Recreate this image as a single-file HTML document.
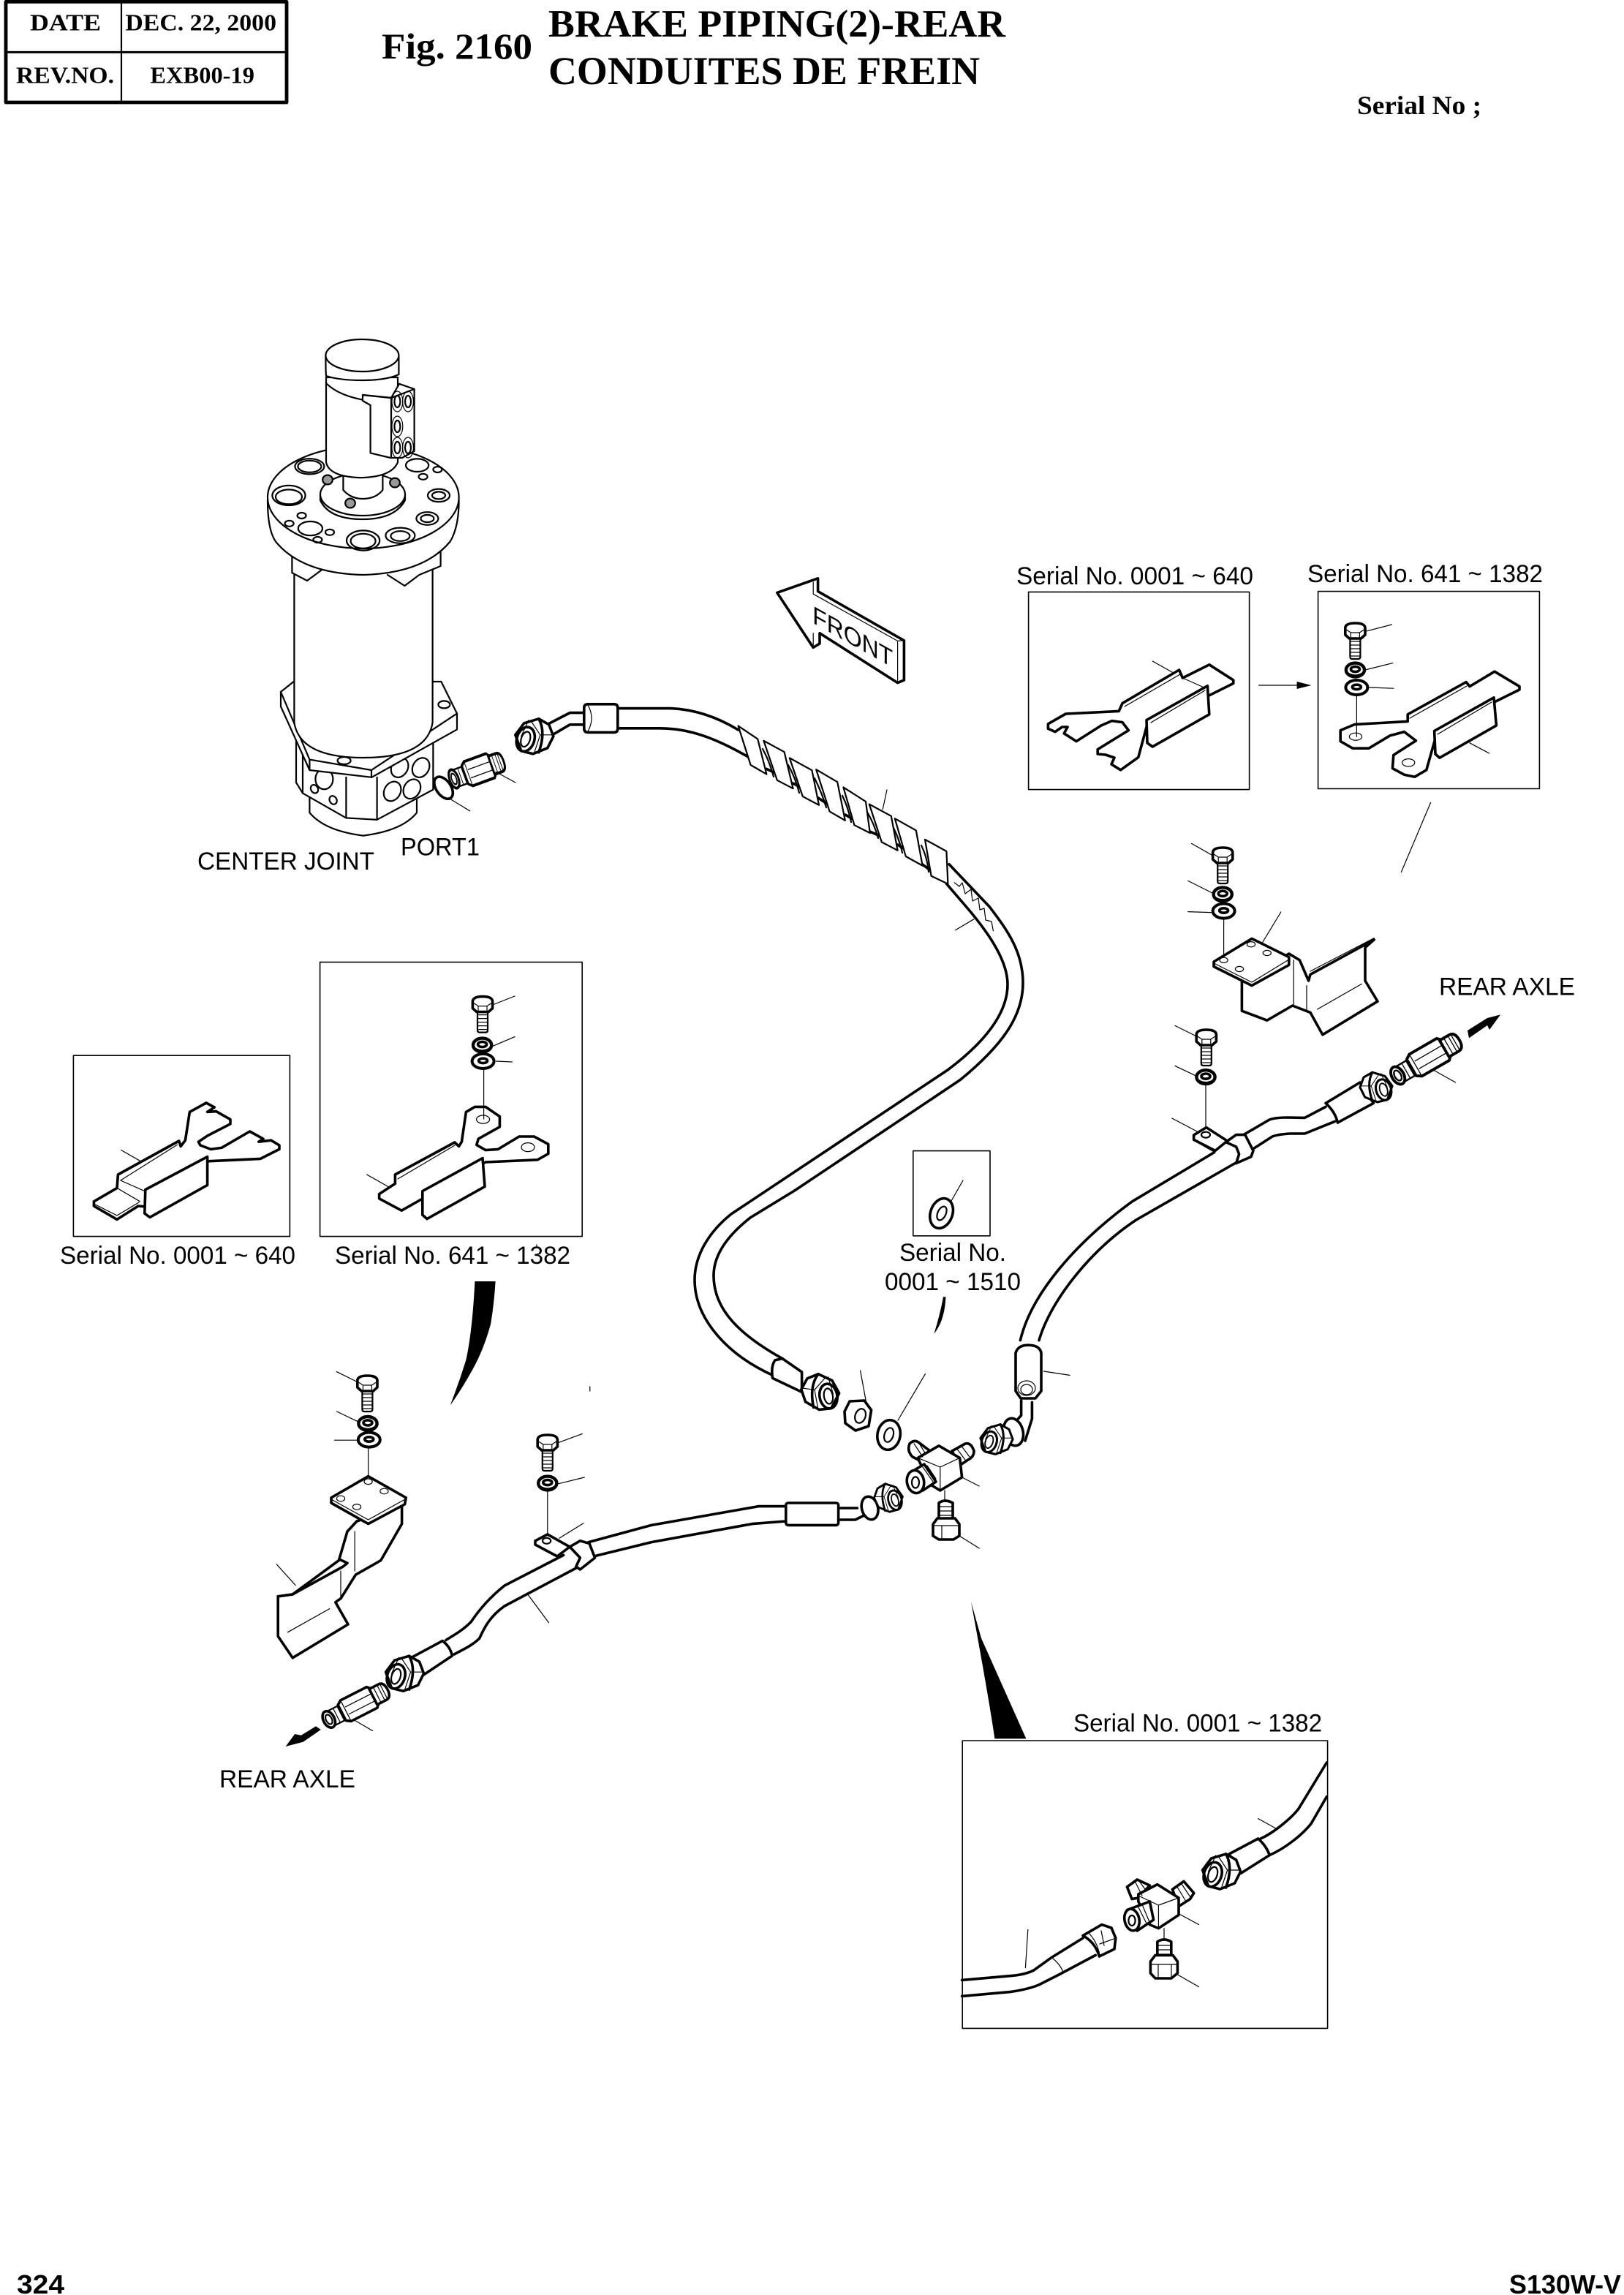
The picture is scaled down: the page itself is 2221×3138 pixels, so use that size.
<!DOCTYPE html>
<html><head><meta charset="utf-8"><title>Fig. 2160 Brake Piping</title>
<style>
html,body{margin:0;padding:0;background:#fff}
svg{display:block}
.t{stroke-width:1.8}.m{stroke-width:1.1}.n{stroke-width:.6}
text{fill:#000;stroke:none}
.s{font-family:"Liberation Sans",sans-serif;font-size:17px}
.b{font-family:"Liberation Serif",serif;font-weight:bold}
.h{font-family:"Liberation Sans",sans-serif;font-weight:bold;font-size:18px}
</style></head><body>
<svg xmlns="http://www.w3.org/2000/svg" width="2221" height="3138" viewBox="0 0 1110.5 1569" fill="none" stroke="#000" stroke-linejoin="round" stroke-linecap="round">
<defs>
<g id="bolt"><path class="m" fill="#fff" d="M-3.5 9h7v13.5q0 1.5-1.5 1.5h-4q-1.5 0-1.5-1.5z"/>
<path class="n" d="M-3.5 12h7M-3.5 14.5h7M-3.5 17h7M-3.5 19.5h7M-3.5 22h7"/>
<path class="t" fill="#fff" d="M-6.8 3q0-3.5 6.8-3.5t6.8 3.5v4.5l-2.8 2.500h-8l-2.800-2.500z"/>
<path class="n" d="M-6.8 3.500l3.800 2.500h6l3.800-2.500M-3 6v4M3 6v4"/></g>
<g id="lock"><ellipse stroke-width="2.200" fill="#fff" rx="6.300" ry="4.700"/><ellipse class="t" cy="-.5" rx="3" ry="1.800"/><path class="n" d="M-6.300 1q6.300 5 12.600 0"/></g>
<g id="wash"><ellipse stroke-width="2" fill="#fff" rx="7.500" ry="5"/><ellipse class="t" cy="-.3" rx="3" ry="1.600"/><path class="n" d="M-7 2q7 5 14 0"/></g>
<g id="nut"><path class="t" fill="#fff" d="M-13-1L-7-9L3-12L10-8L13 0L9 8L-1 12L-9 10Z"/>
<ellipse class="t" cx="-6" cy="2" rx="6" ry="8.500" transform="rotate(18 -6 2)"/><ellipse class="m" cx="-6" cy="2" rx="3" ry="5.300" transform="rotate(18 -6 2)"/>
<path class="n" d="M-2-10L4-1L0 11M4-1L13-1M-4-11L-9 0"/><path class="t" d="M3-12Q8-3 3 11"/></g>
<g id="adapt"><path class="m" fill="#fff" d="M-22-5.500H-10V5.500H-22z"/><path class="n" d="M-19-5.500V5.500M-16-5.500V5.500M-13-5.500V5.500"/>
<path class="t" fill="#fff" d="M-12-6L-9-8H11L13-6V6L11 8H-9L-12 6z"/><path class="n" d="M-8-2.500H11M-8 3H11M-9-8V8"/>
<path class="t" fill="#fff" d="M12-6H19Q23-6 23 0T19 6H12z"/><path class="n" d="M15-6V6M18-6V6M20-6V6"/>
<ellipse class="t" fill="#fff" cx="-22" rx="3.800" ry="6"/><ellipse class="m" cx="-22" rx="2" ry="3.500"/></g>
</defs>
<!-- title block -->
<rect x="4" y="1.200" width="192" height="68.800" stroke-width="2.400"/>
<path stroke-width="1.500" d="M4 35.700H196"/><path class="m" d="M83 2V69"/>
<g class="b">
<text x="20.500" y="20.800" font-size="16" textLength="48.500" lengthAdjust="spacingAndGlyphs">DATE</text>
<text x="85.700" y="20.800" font-size="16" textLength="103.300" lengthAdjust="spacingAndGlyphs">DEC. 22, 2000</text>
<text x="11" y="56.700" font-size="16" textLength="67" lengthAdjust="spacingAndGlyphs">REV.NO.</text>
<text x="102.700" y="56.700" font-size="16" textLength="71.300" lengthAdjust="spacingAndGlyphs">EXB00-19</text>
<text x="261" y="40" font-size="25" textLength="103" lengthAdjust="spacingAndGlyphs">Fig. 2160</text>
<text x="375" y="25" font-size="26.500" textLength="312.500" lengthAdjust="spacingAndGlyphs">BRAKE PIPING(2)-REAR</text>
<text x="375" y="57.500" font-size="27" textLength="295" lengthAdjust="spacingAndGlyphs">CONDUITES DE FREIN</text>
<text x="928" y="78" font-size="18" textLength="85" lengthAdjust="spacingAndGlyphs">Serial No ;</text>
</g>
<text class="h" x="11.500" y="1568" textLength="32.500" lengthAdjust="spacingAndGlyphs">324</text>
<text class="h" x="1032" y="1568" textLength="76.500" lengthAdjust="spacingAndGlyphs">S130W-V</text>
<!-- labels -->
<g class="s">
<text x="135" y="594.400" textLength="121" lengthAdjust="spacingAndGlyphs">CENTER JOINT</text>
<text x="274" y="584.700" textLength="54" lengthAdjust="spacingAndGlyphs">PORT1</text>
<text x="695" y="399.500" textLength="162" lengthAdjust="spacingAndGlyphs">Serial No. 0001 ~ 640</text>
<text x="894" y="398" textLength="161" lengthAdjust="spacingAndGlyphs">Serial No. 641 ~ 1382</text>
<text x="984" y="680.300" textLength="93" lengthAdjust="spacingAndGlyphs">REAR AXLE</text>
<text x="41" y="863.900" textLength="161" lengthAdjust="spacingAndGlyphs">Serial No. 0001 ~ 640</text>
<text x="229" y="863.900" textLength="161" lengthAdjust="spacingAndGlyphs">Serial No. 641 ~ 1382</text>
<text x="615" y="862" textLength="73" lengthAdjust="spacingAndGlyphs">Serial No.</text>
<text x="605" y="882" textLength="93" lengthAdjust="spacingAndGlyphs">0001 ~ 1510</text>
<text x="150" y="1222" textLength="93" lengthAdjust="spacingAndGlyphs">REAR AXLE</text>
<text x="734" y="1183.700" textLength="170" lengthAdjust="spacingAndGlyphs">Serial No. 0001 ~ 1382</text>
</g>
<!-- CENTER JOINT -->
<g class="m">
<path d="M211.700 544.700V555.600Q222 568 248.300 571.300Q275 568 285 555.600V546"/>
<path fill="#fff" d="M202.500 506V535L207 542.300L236.700 559.200L257.800 560.400L296.200 539.800V508.300Z"/>
<path d="M207 510V542.300M236.700 531.400V559.200M257.800 531.400V560.400"/>
<ellipse cx="221.700" cy="532.600" rx="6" ry="7"/><ellipse cx="215" cy="539.400" rx="2.400" ry="3" transform="rotate(-30 215 539.400)"/><ellipse cx="227.800" cy="547" rx="2.400" ry="3" transform="rotate(-30 227.800 547)"/>
<ellipse cx="273.300" cy="524.800" rx="5.500" ry="7" transform="rotate(30 273.300 524.800)"/><ellipse cx="287.800" cy="524.800" rx="5.500" ry="7" transform="rotate(30 287.800 524.800)"/><ellipse cx="268.300" cy="541" rx="5.500" ry="7" transform="rotate(30 268.300 541)"/><ellipse cx="281.700" cy="539.400" rx="5.500" ry="7" transform="rotate(30 281.700 539.400)"/>
<path fill="#fff" d="M192 473L200.800 466H295.800H301.700L312.500 487.800V498.700L254.200 531.400L211.700 526.500L192 483Z"/>
<path d="M192 473L211.700 519.300L254 526.500L312.500 487.800M211.700 519.300V526.500M254 526.500V531.400"/>
<ellipse cx="303.700" cy="481.700" rx="4" ry="2.500"/><ellipse cx="235.300" cy="520" rx="4.500" ry="2.500"/>
<path fill="#fff" d="M201.200 388V494Q205 518 248.500 518Q292 518 295.800 494V388Z"/>
<path d="M199.700 378V391.600L210 397L220 389.600M301.300 377.500V387L286.700 393L276.700 400.500L265 393" fill="#fff"/>
<path fill="#fff" d="M183 342Q183 365 190 372Q208 392 248 393Q290 392 308 370Q313.800 360 313.800 342Z"/>
<ellipse fill="#fff" cx="248.400" cy="340" rx="65.400" ry="35"/>
<ellipse cx="211.700" cy="318.900" rx="10" ry="5.300"/><ellipse cx="211.700" cy="318.900" rx="8" ry="4"/>
<ellipse cx="197.500" cy="338.700" rx="11.300" ry="6.800"/><ellipse cx="197.500" cy="339.700" rx="9" ry="5"/>
<ellipse cx="285.300" cy="318.100" rx="7.800" ry="4.400"/><ellipse cx="299.200" cy="321" rx="3" ry="2"/><ellipse cx="289.300" cy="325.900" rx="3" ry="2"/>
<ellipse cx="300" cy="338.700" rx="7.500" ry="4.400"/><ellipse cx="300" cy="338.700" rx="4.500" ry="2.500"/>
<ellipse cx="292.200" cy="354.500" rx="7.500" ry="4.400"/><ellipse cx="292.200" cy="354.500" rx="4.500" ry="2.500"/>
<ellipse cx="212.200" cy="361.300" rx="8.300" ry="4.800"/><ellipse cx="206.300" cy="352.500" rx="3" ry="2"/><ellipse cx="197.800" cy="357.900" rx="3" ry="2"/><ellipse cx="225.500" cy="363.900" rx="3" ry="2"/><ellipse cx="217.200" cy="369" rx="3" ry="2"/>
<ellipse cx="248.300" cy="369.500" rx="11.300" ry="6.800"/><ellipse cx="248.300" cy="369.900" rx="8.500" ry="5"/>
<ellipse cx="273.700" cy="366.100" rx="10" ry="5.300"/><ellipse cx="273.700" cy="366.500" rx="6.500" ry="3.400"/>
<path fill="#fff" d="M219 338V342Q225 355 248 355Q270 355 277 342V338Z"/>
<ellipse fill="#fff" cx="248" cy="338" rx="29" ry="14.500"/>
<path fill="#fff" d="M234.700 322V335Q240 341 248 341Q257 341 261.700 335V322Z"/>
<ellipse cx="224" cy="328" rx="3.400" ry="3.200" fill="#999"/><ellipse cx="270" cy="330" rx="3.400" ry="3.200" fill="#999"/><ellipse cx="239.500" cy="344" rx="3.400" ry="3.200" fill="#999"/>
<path fill="#fff" d="M223 258V316Q225 326 247 326.600Q268 326 272 316V258Z"/>
<path d="M223 262Q232 271 252 274"/>
<path fill="#fff" d="M222.700 243Q222.700 254 223 257Q232 260 247.700 260Q264 260 272.700 256V243Z"/>
<ellipse fill="#fff" cx="247.700" cy="243" rx="25" ry="11"/>
<path fill="#fff" d="M248 270V274L253.300 277V309.700L267 313H275L283.300 308.400V266L273 262.400L267.500 272Z"/>
<path d="M248 270L267.500 272V313M267.500 272L283.300 266"/>
<g class="n"><ellipse cx="271.700" cy="274.500" rx="3.700" ry="7"/><ellipse cx="279" cy="274.500" rx="3.700" ry="7"/><ellipse cx="271.700" cy="291.500" rx="3.700" ry="7"/><ellipse cx="271.700" cy="306" rx="3.700" ry="7"/><ellipse cx="279" cy="306" rx="3.700" ry="7"/></g>
<g><ellipse cx="271.700" cy="274.500" rx="2" ry="4"/><ellipse cx="279" cy="274.500" rx="2" ry="4"/><ellipse cx="271.700" cy="291.500" rx="2" ry="4"/><ellipse cx="271.700" cy="306" rx="2" ry="4"/><ellipse cx="279" cy="306" rx="2" ry="4"/></g>
</g>
<ellipse class="t" cx="303.300" cy="538.600" rx="5" ry="8.500" transform="rotate(-35 303.300 538.600)"/>
<use href="#adapt" transform="translate(327 526.500) rotate(-20) scale(.8 1.1)"/>
<path class="n" d="M307.500 546L321.300 554.400M339 527.700L352.500 535"/>
<!-- main hose -->
<g class="t">
<path d="M374 495.400L389.700 487.300H399.400M377.600 502.500L389.700 495.400H399.400"/>
<use href="#nut" x="365.400" y="503.400"/>
<path fill="#fff" d="M399.400 484Q399.400 481.400 402 481.400H420Q422.400 481.400 422.400 484V498Q422.400 500.700 420 500.700H402Q399.400 500.700 399.400 498Z"/>
<path d="M423.600 484.300H458.700C475 485 490 490 504.800 499"/>
<path d="M423.600 497.900H451.500C472 498 490 505 512 517.700"/>
<path d="M649 590.900L676.700 620C688 635 699.500 650 699.500 672C699.500 695 685 715 656.700 738.200L543.300 814L513.300 832.300C497 845 488 858 488 872C488 895 505 912 535 928.800"/>
<path d="M647.300 604.300L660.800 620C678 640 689 658 689 673C689 695 670 715 648.300 731.300L500 830C485 842 475 858 475 875C475 900 495 925 528.300 940.200"/>
<path d="M524.200 525.700L531.400 529M542.300 535.500L548.900 539M559.300 545.400L567.300 550.700M578 557L584.200 560.500M595 568.600L603 572M613.800 577.500L619.400 581M630.800 591L636.800 595.400"/>
</g>
<path class="m" d="M521.500 512Q526 520 529 531M539 523Q544 532 546.500 542M557 532Q562 542 565 552M576 544Q580 552 582 562M593.500 556Q598 564 600.500 573M611 566Q615 574 617 583M630 578Q634 586 635 596"/>
<path class="n" d="M402 482Q407 491 402 500"/>
<!-- bands -->
<g class="m" fill="#fff">
<path d="M504.800 496.300L518.100 505.200L524.200 529.300L513.300 523Z"/>
<path d="M522.200 506.400L536.300 514.100L542.300 539.100L531.400 533.400Z"/>
<path d="M539.900 518.200L555.200 526.600L560 550.400L548.900 544.500Z"/>
<path d="M558.100 526.100L572.600 534.600L577.900 560.900L567.300 554.800Z"/>
<path d="M576.700 538.200L592 548L594.900 569.500L584.200 564.100Z"/>
<path d="M594.400 549.800L609.400 557.900L613.800 581.400L602.900 575.700Z"/>
<path d="M611.900 559.600L626.400 567.700L630.800 591.800L619.400 585.500Z"/>
<path d="M632.500 573.900L647.200 582L648.200 604.300L636.800 598.900Z"/>
</g>
<path class="n" d="M603.600 553.400L606.500 540M665.900 628.400L653.300 635.900"/>
<path class="n" d="M652.600 603.400L656 606L658 603.500L660 611L664 608L665 616L669 614L670 622L673 621L674 629L678 630L679.200 636.400"/>
<!-- hose end -->
<path class="t" fill="#fff" d="M530 929.900L535 928.800L548.300 938V951.700L528.300 942.200Q527 934 530 929.900Z"/>
<use href="#nut" transform="translate(560.800 951.700) scale(-1 1) rotate(-8)"/>
<g class="t" fill="#fff"><path d="M577.500 965L581 958L591 957.500L595.800 964L594 975L585 978L578 973Z"/><ellipse class="m" cx="588.300" cy="968" rx="3.500" ry="5" transform="rotate(20 588.300 968)"/>
<ellipse cx="607.800" cy="981" rx="7.800" ry="10.200" transform="rotate(10 607.800 981)"/><ellipse class="m" cx="607.800" cy="981" rx="3" ry="5" transform="rotate(18 607.800 981)"/></g>
<path class="n" d="M592.500 959.800L588.300 937M614 971L632.700 939.300"/>
<path fill="#000" stroke="none" d="M645 886.600H646.700Q646 903 638.700 911.800Q643 898 645 886.600Z"/>
<!-- T fitting -->
<g class="t" fill="#fff">
<path d="M622 987Q625 984 628 986L636 992L630 999L624 996Q620 992 622 987Z"/>
<path d="M651 992L660 987Q664 986 666 992Q666 996 662 998L656 1002Z"/>
<path d="M627.600 996.700L642 988.400L656.300 996.700L657.800 1010L642.900 1019L635.500 1014.500Z"/>
<path d="M622 1007L632 1001L640 1013L631 1019Z"/>
<ellipse cx="626" cy="1013" rx="5.800" ry="7.800" transform="rotate(-10 626 1013)"/><ellipse class="m" cx="626" cy="1013.500" rx="2.500" ry="3.800"/>
</g>
<path class="n" d="M627.600 996.700L642.900 1003L656.300 996.700M642.900 1003V1019M657.800 1010L669.600 1016M646 1019V1025.700M656 1050L669.600 1058.500M625 987L631 996M628 986L633 994M654 990L660 998M657 988L663 996M631 1003L638 1013M634 1002L640 1011"/>
<g class="t" fill="#fff"><path d="M642 1040V1027.500Q646 1024.500 651.500 1027.500V1040Z"/><path d="M638 1042L641 1038H653L656 1042V1050L652 1052.500H642L638 1050Z"/></g>
<path class="n" d="M642 1030H651.500M642 1033H651.500M642 1036H651.500M638 1043H656M644 1043V1052"/>
<!-- right hose -->
<g class="t">
<path d="M697.700 916.300C705 885 735 850 774.200 821.400L830 788"/>
<path d="M710.500 916.300C718 890 745 855 777.400 833.700L845 795"/>
<path fill="#fff" d="M694.500 925Q696 919.600 703 919.600Q711 919.600 712 925V951L708 956H698L694.500 951Z"/>
<path d="M698.300 957.600V967.600L691 976M705.700 958.700V970L701 985"/>
<ellipse fill="#fff" cx="693" cy="979" rx="6.500" ry="9.500" transform="rotate(-15 693 979)"/>
<use href="#nut" transform="translate(681.500 984) scale(.85)"/>
</g>
<ellipse class="n" cx="702" cy="949" rx="6" ry="5"/><ellipse class="n" cx="702" cy="950" rx="4" ry="3.500"/>
<path class="n" d="M713.700 937.500L731.500 940.200"/>
<g class="t"><path d="M850.400 775.800L868 765.500Q872 764 880 764L892.200 764.200L906.500 756.700"/><path d="M857.600 785L870 777Q874 775.500 882 775L892.200 775L912.700 766.700"/></g>
<path class="t" fill="#fff" d="M824.900 770.800L839.200 780L831 786.700L816.300 779.200V776Z"/>
<path class="n" d="M817 780L831 788"/><ellipse class="m" cx="824.500" cy="775.800" rx="3" ry="2"/>
<path class="t" fill="#fff" d="M838.200 780.800L845.300 775.800H851.400L857 786.700L855.500 790.800L845.300 795.300L847.300 789L845.300 784Z"/>
<path class="t" fill="#fff" d="M906.500 754.200L930 740L939.200 754.200L914.700 767.500Q913 760 906.500 754.200Z"/>
<use href="#nut" transform="translate(941 743.300) scale(-.85 .85)"/>
<use href="#adapt" transform="translate(976.400 723.400) rotate(-30) scale(1.08)"/>
<path class="n" d="M981 732L995.300 740M824.500 740.800V770.800M801.400 764.500L819.800 774.200M803.500 701.200L817.800 708.300M803.500 728.700L818.400 735.800"/>
<path fill="#000" stroke="none" d="M1003.500 704.500L1017 696L1026 693.700L1018.500 704L1017 701L1004.500 709.700Z"/>
<use href="#bolt" x="824.900" y="704.500"/><use href="#lock" x="824.500" y="736.300"/>
<!-- left lower hose -->
<g class="t">
<path d="M402.500 1054.300L445.500 1042.700L518.700 1029.800H537.400"/>
<path d="M406.800 1063.800L445.500 1054.300L514.400 1041.800L537.400 1040"/>
<path d="M385.300 1063.200L345 1084C335 1092 328 1100 322.100 1108.800C316 1115 310 1118 304.900 1121.300"/>
<path d="M395.300 1071.300L345 1098C335 1105 331 1113 327.900 1120C323 1125 316 1128 310.600 1131"/>
<rect fill="#fff" x="537.400" y="1027.500" width="35.900" height="15.200" rx="1.500"/>
<path d="M574.700 1031H586.200M574.700 1039H584.800L592 1035.500"/>
<ellipse fill="#fff" cx="594.800" cy="1031" rx="5.500" ry="8" transform="rotate(-15 594.800 1031)"/>
<use href="#nut" transform="translate(607.500 1024) scale(-.75 .8)"/>
<path fill="#fff" d="M374.400 1049L389.600 1057.500L381 1064L366 1056V1053.400Z"/>
<path fill="#fff" d="M389.600 1057.500L396.700 1053.400L403 1055.200L406.800 1065L396.700 1073L393.900 1071L396.700 1065Z"/>
<path fill="#fff" d="M281.900 1132.900L302.600 1121.800Q308 1126 309.200 1132L289.100 1145.400Z"/>
</g>
<ellipse class="m" cx="373.800" cy="1053.400" rx="2.800" ry="2"/>
<use href="#nut" transform="translate(276.800 1144.100)"/>
<use href="#adapt" transform="translate(244.500 1165.500) rotate(-27)"/>
<path class="n" d="M241.800 1175.700L254.700 1183.200M360.900 1090L375.200 1109.300M380.400 986.800L398.200 980.200M381 1014.600L399.600 1010M374.400 1018.600V1049M382.400 1051.600L399 1041.400M403.400 948V951"/>
<path fill="#000" stroke="none" d="M216 1180.200L219.400 1182.500L207.300 1190.900L195.300 1194L201.600 1185.500L205.900 1186.400Z"/>
<use href="#bolt" x="374.400" y="981.500"/><use href="#lock" x="374.400" y="1014"/>
<!-- left bracket assembly -->
<use href="#bolt" x="251.200" y="941"/><use href="#lock" x="251.500" y="973.200"/><use href="#wash" x="252.400" y="984.300"/>
<path class="n" d="M230.200 937.800L244.800 945M230.300 965L245.200 972.100M228.800 984.600H244.600M251.800 989.600V1009.600"/>
<path class="t" fill="#fff" d="M244 1040L237.500 1047L231.700 1066.800L200.100 1090L190.100 1091.400V1118.600L200.100 1133.400L238 1110.500L229.400 1095.400L233.100 1092.700L243.200 1076.600L260.400 1066.800L274.800 1041.800V1029.300Z"/>
<path class="t" d="M190.100 1091.400L200 1090L234.600 1071L237.500 1068.600L232 1066"/>
<path class="t" fill="#fff" d="M251.800 1009.300L277.600 1023.900L276.800 1028.400L251.800 1041.800L226.500 1027.500V1023.900Z"/>
<path class="n" d="M226.500 1025L251.800 1039L277 1025M242.600 1047V1074M233 1074V1093.600M189.200 1069.500L202.100 1083.800M196.700 1115.900L225.400 1099.800"/>
<g class="n"><ellipse cx="251.800" cy="1012.900" rx="2.800" ry="1.900"/><ellipse cx="262.700" cy="1019.500" rx="2.800" ry="1.900"/><ellipse cx="233" cy="1024.500" rx="2.800" ry="1.900"/><ellipse cx="244" cy="1030.200" rx="2.800" ry="1.900"/></g>
<path fill="#000" stroke="none" d="M324.700 876H338.800Q338 890 335.600 905Q331 922 323.500 935.700Q315 951 307.800 960.800Q314 945 318.700 929.600Q323 910 324.700 876Z"/>
<!-- left boxes -->
<rect x="50.200" y="721.600" width="148" height="123.700" stroke-width=".8"/>
<rect x="218.800" y="657.800" width="179.300" height="187.500" stroke-width=".8"/>
<path class="t" fill="#fff" d="M64.200 821.400L80 812.200L80.700 803L122.400 780L123.600 783.700L126.700 779.600L129.700 760.200L141 754L146.600 757L141.800 760.200L147.800 759.800L157.500 765.300V768.400L141.800 776.500L135.700 780.600L137 783L144.200 785.700L151.500 784.700L170.800 773.500L180 778.600L176.900 780.600L185.400 779.600L191 783V785.700L178.100 792.200L141.800 793.900L100 825L94.500 824.500L80 833.700L64.200 824.500Z"/>
<path class="t" fill="#fff" d="M141.800 790.800L99.400 813.300L98.900 829.600L102.500 832.200L141.800 810.200Z"/>
<path class="n" d="M82.400 807L121.200 782.600M82.400 807L98.900 814.300M80 812.200L95.700 821.400M82.900 786.300L96.200 793.900M64.200 823L80 831L95 822"/>
<path class="t" fill="#fff" d="M259.300 816.300L270.200 809.200V803L310.900 781L313.800 783.700L315.700 780.600L318.700 760.200L324.700 756.700H332L341.700 763.300V770.400L327.100 778.600L325.900 782.700L332 786.300L340.500 785.700L355 777H365.200L374.900 782.200V788.800L367.600 792.900L332 794.500L288 820L274.600 827.600L259.300 819.400Z"/>
<path class="t" fill="#fff" d="M330 791.800L288.900 814.300V830.600L292 833.300L331.500 811.200Z"/>
<path class="n" d="M272 806L311 783M250.800 803L265.300 811.200M330.800 730.600V765M336.800 687L352 681M334.400 716.300L352 708.800M339.200 725.500L350.200 726"/>
<ellipse class="n" cx="330.300" cy="765.300" rx="4.500" ry="2.800"/><ellipse class="n" cx="361" cy="784.300" rx="4.500" ry="3"/>
<use href="#bolt" x="330" y="681.800"/><use href="#lock" x="329.800" y="714.500"/><use href="#wash" x="330.300" y="725.500"/>
<!-- FRONT arrow -->
<path class="t" fill="#fff" d="M531.400 405.200L559.300 395.400V404.300L618.200 437.900V465L613.800 466.800L560.500 432.900V440L556.100 442.700Z"/>
<path class="n" d="M556.100 398V406.100L613.800 438.200V466.800M556.100 432.900V442.700M613.800 438.200L618.200 437.900"/>
<text x="0" y="0" transform="matrix(1 .56 0 1 555.600 425.700)" font-family="Liberation Sans,sans-serif" font-size="17" textLength="55" lengthAdjust="spacingAndGlyphs">FRONT</text>
<!-- top right boxes -->
<rect x="703.300" y="404.700" width="151" height="135.100" stroke-width=".8"/>
<rect x="901.300" y="404.300" width="151.400" height="134.900" stroke-width=".8"/>
<path class="n" d="M860.800 468.500H887.500"/><path fill="#000" stroke="none" d="M886.800 466L896.700 468.500L886.800 471Z"/>
<path class="t" fill="#fff" d="M716.700 494.900L728.800 488L765.100 486.200L767.500 480.800L806.300 458L808.700 463.500L826.900 454.400L843.400 465V467.200L826.900 475.400L784 497L778.400 517.700L766.300 526.400L760 522.500L762 518L756 516L750.600 515.500V512.300L771.700 499.300L767.500 493.800L760.300 492.800L753 496L736 506.800L727.600 501.400L730 497H726.300L721.500 500.300L716.700 498.200Z"/>
<path class="t" fill="#fff" d="M784 492.300L825.700 468.900L826.900 488.400L788.100 510.500L784.500 507.900Z"/>
<path class="n" d="M788.100 452L802.700 460.200M808.700 463.500L823.300 470M769 483L807 461M787 494L824 472"/>
<path class="t" fill="#fff" d="M916.600 499.300L926.200 495.300L962.600 493.200V488.400L1002.600 466.300L1005 469.300L1022 459.100L1039 469.300V471.500L1023.200 479.300L982 503L975.400 526.400L967.400 531.100L960.200 529.600L952.200 525.300L952.900 516.200L968.200 506.400L960.200 500.300L950.500 502.900L936 511.600H925L916.600 506.800Z"/>
<path class="t" fill="#fff" d="M980.800 499.700L1021.500 476.900L1023.200 496L984.400 518.100L981.500 515.500Z"/>
<ellipse class="n" cx="927" cy="503.600" rx="4.300" ry="2.500"/><ellipse class="n" cx="963.100" cy="521.400" rx="4.300" ry="2.600"/>
<path class="n" d="M927.700 475.400V503.600M934.700 431.400L951.700 427M933.500 458L952.400 453.300M936.400 470L952.900 470.600M1005 507.900L1018.300 515M978.300 548.700L958.200 596.200M964 491L1003 469M983 502L1020 480"/>
<use href="#bolt" x="926.700" y="426.500"/><use href="#lock" x="926.700" y="458"/><use href="#wash" x="927.700" y="470"/>
<!-- right bracket -->
<use href="#bolt" x="836.100" y="580"/><use href="#lock" x="836.100" y="611.400"/><use href="#wash" x="836.800" y="622.800"/>
<path class="n" d="M814.800 576.700L829.300 584.900M812.400 602.200L830 611M812.400 623.300L830 623.900M836.800 628.300V655.400M863.200 644.500L875.900 623.500"/>
<path class="t" fill="#fff" d="M849.200 670.500V691.100L866.400 697.600L883.800 687.500L896 692.200L904.400 707.400L942 684.600L933.500 670.500V647.800L939.600 642.400L896 666.200L894.800 670.500L888.700 656.400L881.400 652Z"/>
<path class="t" fill="#fff" d="M856 641.700L881.400 654.300V659.700L856 673.800L830 660.800V657.500Z"/>
<path class="n" d="M830 658.500L856 671.500L881.400 656M884.600 656.400V686.800M893.500 673.800V691.100M900.800 690L931.100 672.700M896 664L939.600 641.300"/>
<g class="n"><ellipse cx="836.800" cy="656.400" rx="2.800" ry="1.800"/><ellipse cx="855.500" cy="645.600" rx="2.800" ry="1.800"/><ellipse cx="866.400" cy="651.500" rx="2.800" ry="1.800"/><ellipse cx="847.500" cy="662.500" rx="2.800" ry="1.800"/></g>
<!-- small box -->
<rect x="624.400" y="786.800" width="52.600" height="58.100" stroke-width=".8"/>
<ellipse class="t" cx="643.800" cy="829.500" rx="7.500" ry="10.500" transform="rotate(20 643.800 829.500)"/>
<ellipse class="m" cx="644" cy="829.500" rx="2.800" ry="5" transform="rotate(25 644 829.500)"/>
<path class="n" d="M650.500 821L658.500 807"/>
<!-- big wedge & inset -->
<path fill="#000" stroke="none" d="M664 1095L671 1120L701.700 1188.700H680.200Q676 1160 664 1095Z"/>
<rect x="658.100" y="1190" width="249.700" height="196.700" stroke-width=".8"/>
<g class="t">
<path d="M907.200 1205L887.900 1236.700C883 1243 871 1253 862 1257"/>
<path d="M907.200 1228.300L896.600 1246.700C890 1255 878 1264 868.100 1268.300"/>
<path fill="#fff" d="M840.500 1267.500L860.300 1257Q866 1262 868.100 1268.300L848.300 1280.800Z"/>
<path d="M657.800 1353.700L691.400 1350.800Q701 1350 706.900 1347L719 1338.300L740.500 1325"/>
<path d="M657.800 1364.700L691.400 1361.700Q703 1360 710.300 1357L724.100 1350L749.100 1336.700"/>
<path fill="#fff" d="M740.500 1323.300L753.400 1315.800L760 1318L762.900 1325L762 1332.500L751.700 1337.500Q749 1328 740.500 1323.300Z"/>
</g>
<use href="#nut" transform="translate(835.300 1279.500)"/>
<path class="n" d="M860.300 1243.300L872.400 1250M720 1339Q726 1344 727 1349M745 1322Q751 1329 752 1337M752 1329L763 1325M753 1320L755 1330M702.900 1319.200L701.200 1345.300"/>
<g class="t" fill="#fff">
<path d="M770.700 1290L777.600 1285L786.200 1289L778.400 1297.500L774 1298.300Z"/>
<path d="M801.700 1291.700L809.500 1286.200L816.400 1294.200L813.800 1298.300L806 1303.300Z"/>
<path d="M778.400 1295L791.400 1288.300L806 1297.500V1309.200L792.200 1318.300L786.200 1315.800L778.400 1300Z"/>
<path d="M770.700 1305.800L786.200 1300L788.800 1312.500L777.600 1320Z"/>
<ellipse cx="774" cy="1312.500" rx="5" ry="7.500" transform="rotate(-12 774 1312.500)"/><ellipse class="m" cx="774" cy="1313" rx="2.300" ry="3.500"/>
</g>
<path class="n" d="M778.400 1296L792.200 1302.500L806 1297.500M792.200 1302.500V1318.300M806 1308.300L819.800 1315.800M796 1318.300V1325.800M805.200 1350L819.800 1358.300M776 1286L781 1296M779 1286L784 1293M805 1290L811 1300M808 1288L814 1297M778 1303L784 1315M781 1302L786 1314"/>
<g class="t" fill="#fff"><path d="M791.400 1340V1327.500Q796 1324.500 800.900 1327.500V1340Z"/><path d="M786.700 1341L790 1336.700H802L805.200 1341V1349L801 1352.500H790L786.700 1349Z"/></g>
<path class="n" d="M791.400 1330H800.900M791.400 1333H800.900M791.400 1336H800.900M786.700 1343H805.200M792 1343V1352M801 1343V1352"/>
<path class="n" d="M367 851V853"/>
</svg>
</body></html>
